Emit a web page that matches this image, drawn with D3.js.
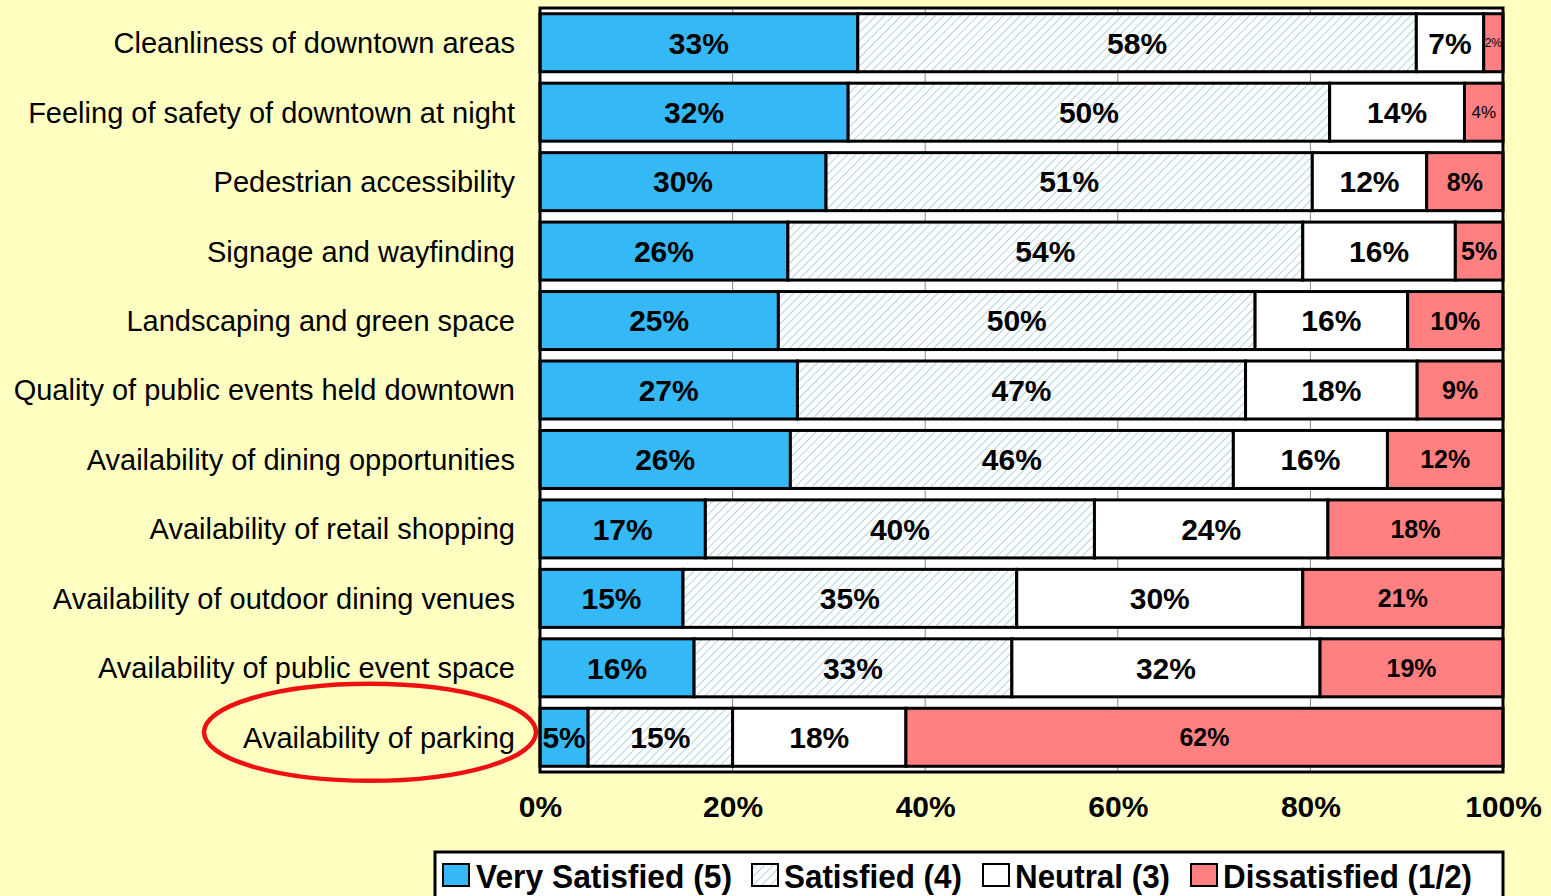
<!DOCTYPE html>
<html>
<head>
<meta charset="utf-8">
<script src="https://cdn.jsdelivr.net/npm/d3@7/dist/d3.min.js"></script>
<style>
  html, body { margin: 0; padding: 0; background: #FFFFC2; }
  svg { display: block; }
</style>
</head>
<body>
<svg id="chart" width="1551" height="896"></svg>
<script>
// Survey items, top to bottom
const categories = [
  "Cleanliness of downtown areas",
  "Feeling of safety of downtown at night",
  "Pedestrian accessibility",
  "Signage and wayfinding",
  "Landscaping and green space",
  "Quality of public events held downtown",
  "Availability of dining opportunities",
  "Availability of retail shopping",
  "Availability of outdoor dining venues",
  "Availability of public event space",
  "Availability of parking"
];

// Response shares (%) per rating
const verySatisfied = [33, 32, 30, 26, 25, 27, 26, 17, 15, 16, 5];
const satisfied     = [58, 50, 51, 54, 50, 47, 46, 40, 35, 33, 15];
const neutral       = [7, 14, 12, 16, 16, 18, 16, 24, 30, 32, 18];
const dissatisfied  = [2, 4, 8, 5, 10, 9, 12, 18, 21, 19, 62];

const seriesNames = ["Very Satisfied (5)", "Satisfied (4)", "Neutral (3)", "Dissatisfied (1/2)"];
const tickValues = [0, 0.2, 0.4, 0.6, 0.8, 1.0];
const tickLabels = ["0%", "20%", "40%", "60%", "80%", "100%"];

const highlighted = "Availability of parking";

const svg = d3.select("#chart");
const W = 1551, H = 896;
const plot = { left: 540, right: 1503, top: 8, bottom: 772 };

svg.append("rect").attr("width", W).attr("height", H).attr("fill", "#FFFFC2");

// Diagonal hatch for the "Satisfied" series
const defs = svg.append("defs");
const pat = defs.append("pattern")
  .attr("id", "hatch")
  .attr("patternUnits", "userSpaceOnUse")
  .attr("width", 6).attr("height", 6)
  .attr("patternTransform", "rotate(45)");
pat.append("rect").attr("width", 6).attr("height", 6).attr("fill", "#FFFFFF");
pat.append("line").attr("x1", 0).attr("y1", 0).attr("x2", 0).attr("y2", 6)
  .attr("stroke", "#9CC9D8").attr("stroke-width", 1.6);

const fills = ["#35B9F6", "url(#hatch)", "#FFFFFF", "#FF8080"];

// Rows: each item normalised to its own total (100% stacked)
const rows = categories.map((c, i) => {
  const vals = [verySatisfied[i], satisfied[i], neutral[i], dissatisfied[i]];
  return { category: c, vals, total: d3.sum(vals) };
});

const x = d3.scaleLinear().domain([0, 1]).range([plot.left, plot.right]);
const y = d3.scaleBand().domain(categories).range([plot.top, plot.bottom]).paddingInner(0.165).paddingOuter(0.0825);

// Plot area
svg.append("rect")
  .attr("x", plot.left).attr("y", plot.top)
  .attr("width", plot.right - plot.left).attr("height", plot.bottom - plot.top)
  .attr("fill", "#FFFFFF");

// Vertical gridlines
svg.append("g").selectAll("line")
  .data(tickValues.slice(1, -1))
  .join("line")
  .attr("x1", d => x(d)).attr("x2", d => x(d))
  .attr("y1", plot.top).attr("y2", plot.bottom)
  .attr("stroke", "#8A8A8A").attr("stroke-width", 1);

// Stacked segments
const segs = [];
rows.forEach(r => {
  let acc = 0;
  r.vals.forEach((v, k) => {
    const f0 = acc / r.total, f1 = (acc + v) / r.total;
    segs.push({ category: r.category, k, v, f0, f1 });
    acc += v;
  });
});

svg.append("g").selectAll("rect")
  .data(segs)
  .join("rect")
  .attr("x", d => x(d.f0))
  .attr("y", d => y(d.category))
  .attr("width", d => x(d.f1) - x(d.f0))
  .attr("height", y.bandwidth())
  .attr("fill", d => fills[d.k])
  .attr("stroke", "#000")
  .attr("stroke-width", 3);

// Plot border
svg.append("rect")
  .attr("x", plot.left).attr("y", plot.top)
  .attr("width", plot.right - plot.left).attr("height", plot.bottom - plot.top)
  .attr("fill", "none").attr("stroke", "#000").attr("stroke-width", 3);

// Segment value labels
function labelStyle(d) {
  const w = x(d.f1) - x(d.f0);
  if (w < 26) return { size: 12, weight: "normal" };
  if (w < 40) return { size: 17, weight: "normal" };
  if (d.k === 3) return { size: 25, weight: "bold" };
  return { size: 30, weight: "bold" };
}
svg.append("g").selectAll("text")
  .data(segs)
  .join("text")
  .attr("x", d => (x(d.f0) + x(d.f1)) / 2)
  .attr("y", d => y(d.category) + y.bandwidth() / 2)
  .attr("dy", "0.36em")
  .attr("text-anchor", "middle")
  .attr("font-family", "'Liberation Sans', Arial, sans-serif")
  .attr("font-size", d => labelStyle(d).size)
  .attr("font-weight", d => labelStyle(d).weight)
  .attr("fill", "#000")
  .text(d => d.v + "%");

// Category labels
svg.append("g").selectAll("text")
  .data(categories)
  .join("text")
  .attr("x", 515)
  .attr("y", d => y(d) + y.bandwidth() / 2)
  .attr("dy", "0.36em")
  .attr("text-anchor", "end")
  .attr("font-family", "'Liberation Sans', Arial, sans-serif")
  .attr("font-size", 29)
  .attr("fill", "#000")
  .text(d => d);

// X axis tick labels
const xAxis = d3.axisBottom(x).tickValues(tickValues).tickSize(0).tickPadding(0)
  .tickFormat((d, i) => tickLabels[i]);
const gx = svg.append("g").attr("transform", `translate(0, ${plot.bottom + 34})`).call(xAxis);
gx.select(".domain").remove();
gx.selectAll("text")
  .attr("dy", "0.36em")
  .attr("y", 0)
  .attr("font-family", "'Liberation Sans', Arial, sans-serif")
  .attr("font-size", 30)
  .attr("font-weight", "bold")
  .attr("fill", "#000");

// Highlight ring round the parking item
svg.append("ellipse")
  .attr("cx", 370)
  .attr("cy", y(highlighted) + y.bandwidth() / 2 - 5)
  .attr("rx", 166).attr("ry", 48.5)
  .attr("fill", "none")
  .attr("stroke", "#EE1111")
  .attr("stroke-width", 4.5);

// Legend
const legend = svg.append("g");
legend.append("rect")
  .attr("x", 435).attr("y", 852).attr("width", 1068).attr("height", 70)
  .attr("fill", "#FFFFFF").attr("stroke", "#000").attr("stroke-width", 3);
const legendItems = [
  { box: 443, text: 476, len: 256 },
  { box: 752, text: 784, len: 178 },
  { box: 983, text: 1015, len: 155 },
  { box: 1191, text: 1223, len: 249 }
];
legendItems.forEach((it, k) => {
  legend.append("rect")
    .attr("x", it.box).attr("y", 864).attr("width", 26).attr("height", 22)
    .attr("fill", fills[k]).attr("stroke", "#000").attr("stroke-width", 2);
  legend.append("text")
    .attr("x", it.text).attr("y", 888)
    .attr("font-family", "'Liberation Sans Narrow', 'Liberation Sans', Arial, sans-serif")
    .attr("font-size", 34)
    .attr("font-weight", "bold")
    .attr("textLength", it.len)
    .attr("lengthAdjust", "spacingAndGlyphs")
    .attr("fill", "#000")
    .text(seriesNames[k]);
});
</script>
</body>
</html>
